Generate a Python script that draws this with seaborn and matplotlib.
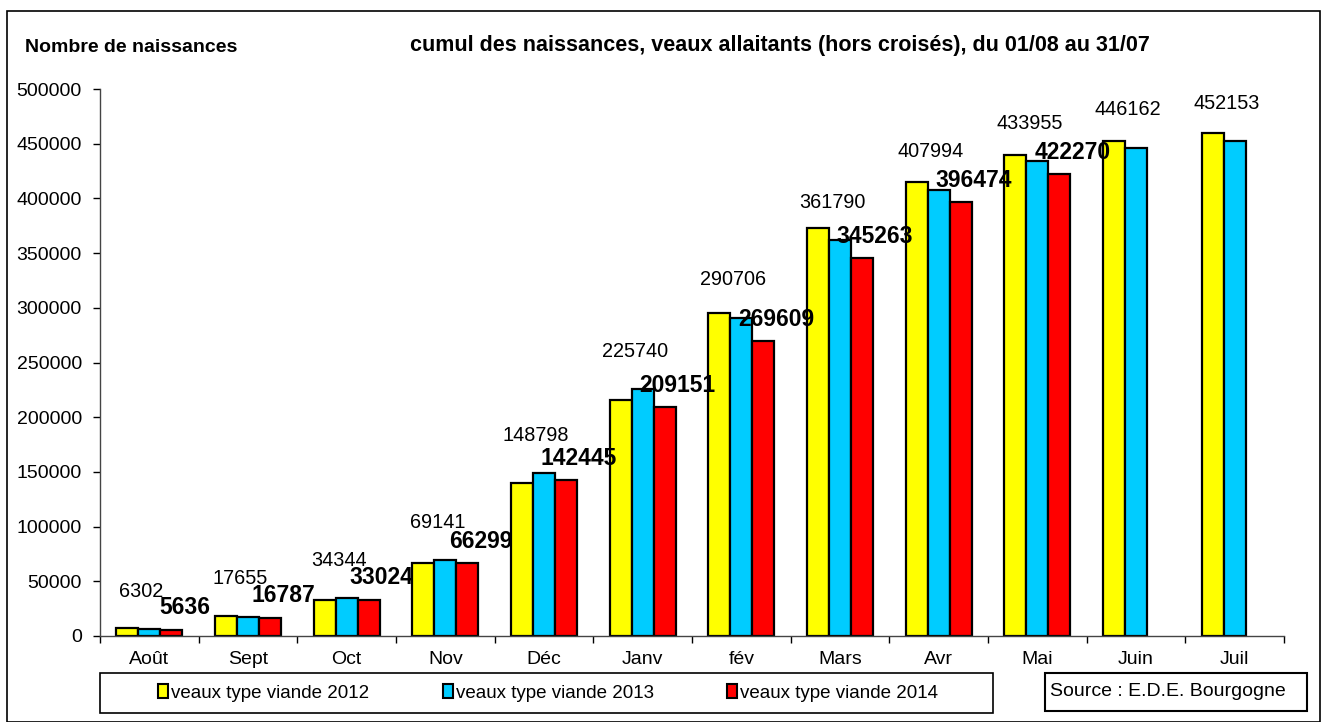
import numpy as np
import pandas as pd
import matplotlib
matplotlib.use("Agg")
import matplotlib.pyplot as plt
from matplotlib.patches import Rectangle, Patch
import seaborn as sns

# données (2012 estimé, 2013/2014 étiquetés)
mois = ['Août', 'Sept', 'Oct', 'Nov', 'Déc', 'Janv', 'fév', 'Mars', 'Avr', 'Mai', 'Juin', 'Juil']
v2012 = [6900, 18100, 33200, 66300, 139600, 215700, 295000, 373200, 414700, 439400, 452500, 459800]
v2013 = [6302, 17655, 34344, 69141, 148798, 225740, 290706, 361790, 407994, 433955, 446162, 452153]
v2014 = [5636, 16787, 33024, 66299, 142445, 209151, 269609, 345263, 396474, 422270, np.nan, np.nan]
series = ['veaux type viande 2012', 'veaux type viande 2013', 'veaux type viande 2014']
couleurs = ['#FFFF00', '#00CCFF', '#FF0000']
yticks = list(range(0, 500001, 50000))

df = pd.DataFrame({
    'mois': mois * 3,
    'naissances': v2012 + v2013 + v2014,
    'serie': [series[0]] * 12 + [series[1]] * 12 + [series[2]] * 12,
})

plt.rcParams['font.family'] = ['Liberation Sans', 'DejaVu Sans']

W, H = 1322, 722
fig = plt.figure(figsize=(W / 100, H / 100), dpi=100)
ax = fig.add_axes([100 / W, (H - 636) / H, 1184 / W, 547 / H])

sns.barplot(data=df, x='mois', y='naissances', hue='serie', order=mois,
            hue_order=series, palette=couleurs, saturation=1, width=0.67,
            edgecolor='black', linewidth=1.6, legend=False, ax=ax)

ax.set_xlim(-0.5, 11.5)
ax.set_ylim(0, 500000)
ax.set_yticks(yticks)
ax.set_yticklabels([str(t) for t in yticks])
ax.set_xticks(np.arange(-0.5, 12, 1))
ax.set_xticklabels([])
ax.set_xticks(range(12), minor=True)
ax.set_xticklabels(mois, minor=True)
ax.tick_params(axis='x', which='major', length=5, width=1, direction='out')
ax.tick_params(axis='x', which='minor', length=0, pad=11, labelsize=14)
ax.tick_params(axis='y', length=5, width=1, pad=8, labelsize=14)
ax.set_xlabel('')
ax.set_ylabel('')
for s in ['top', 'right']:
    ax.spines[s].set_visible(False)
for s in ['left', 'bottom']:
    ax.spines[s].set_linewidth(1)
    ax.spines[s].set_color('#444444')

# étiquettes 2013 (normal) et 2014 (gras)
for bar in ax.containers[1]:
    h = bar.get_height()
    if np.isnan(h):
        continue
    ax.annotate(f'{int(h)}', (bar.get_x() + bar.get_width() / 2, h),
                xytext=(-8, 38), textcoords='offset pixels',
                ha='center', va='center', fontsize=14.3)
for bar in ax.containers[2]:
    h = bar.get_height()
    if np.isnan(h):
        continue
    ax.annotate(f'{int(h)}', (bar.get_x() + bar.get_width() / 2, h),
                xytext=(13, 22), textcoords='offset pixels',
                ha='center', va='center', fontsize=16.5, fontweight='bold')

# titres
fig.text(25 / W, 1 - 47 / H, 'Nombre de naissances', fontsize=14,
         fontweight='bold', ha='left', va='center')
fig.text(780 / W, 1 - 46 / H,
         'cumul des naissances, veaux allaitants (hors croisés), du 01/08 au 31/07',
         fontsize=15.5, fontweight='bold', ha='center', va='center')

# légende dans un cadre
fig.add_artist(Rectangle((100 / W, 1 - 713 / H), 893 / W, 40 / H,
                         transform=fig.transFigure, fill=False,
                         edgecolor='black', linewidth=1.2))
handles = [Patch(facecolor=c, edgecolor='black', linewidth=1.5) for c in couleurs]
fig.legend(handles, series, loc='center', bbox_to_anchor=(548 / W, 1 - 693 / H),
           ncol=3, frameon=False, fontsize=13.5, handlelength=0.55,
           handleheight=0.75, handletextpad=0.15, columnspacing=3.9)

# source
fig.add_artist(Rectangle((1045 / W, 1 - 711 / H), 262 / W, 38 / H,
                         transform=fig.transFigure, fill=False,
                         edgecolor='black', linewidth=1.5))
fig.text(1050 / W, 1 - 692 / H, 'Source : E.D.E. Bourgogne', fontsize=14,
         ha='left', va='center')

# cadre extérieur
fig.add_artist(Rectangle((7 / W, 0.5 / H), 1313 / W, 711 / H,
                         transform=fig.transFigure, fill=False,
                         edgecolor='black', linewidth=1.2))

fig.savefig('out.png', dpi=100)
